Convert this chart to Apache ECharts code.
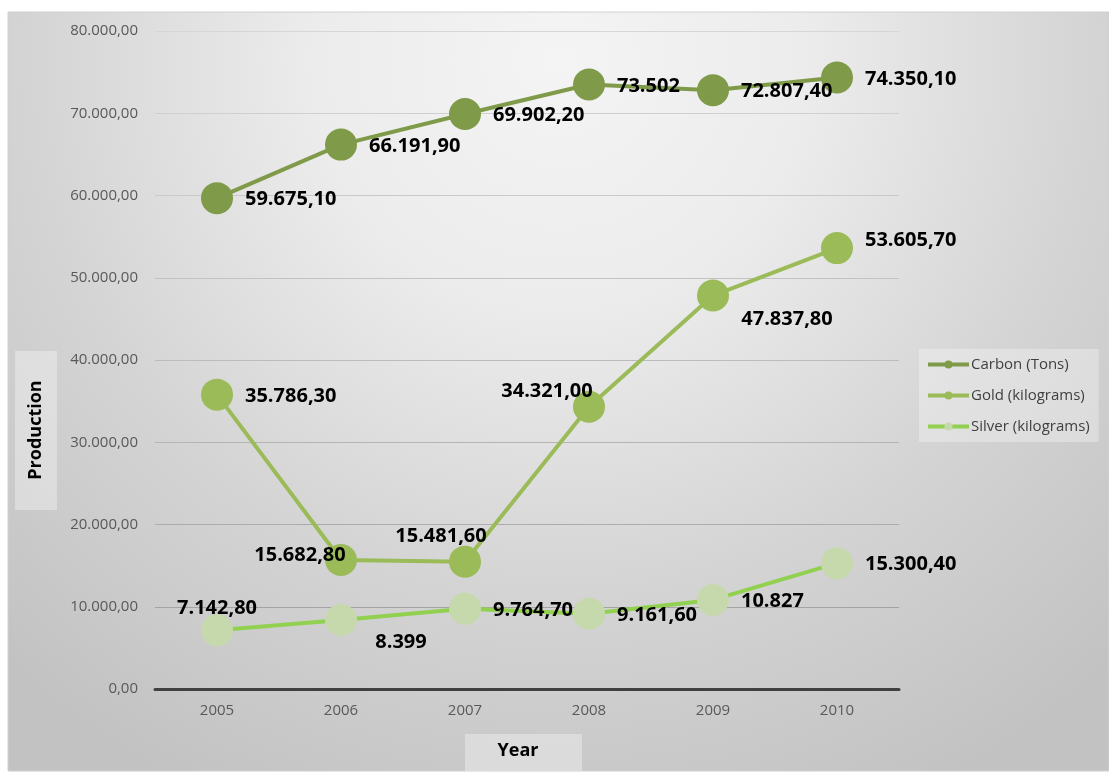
<!DOCTYPE html>
<html>
<head>
<meta charset="utf-8">
<script src="https://cdn.jsdelivr.net/npm/echarts@6/dist/echarts.min.js"></script>
<style>
html,body{margin:0;padding:0;background:#fff;}
#c{width:1109px;height:772px;}
</style>
</head>
<body>
<div id="c"></div>
<script>
// ---- data ----
const years = ['2005', '2006', '2007', '2008', '2009', '2010'];
const carbon = [59675.1, 66191.9, 69902.2, 73502, 72807.4, 74350.1];
const gold = [35786.3, 15682.8, 15481.6, 34321, 47837.8, 53605.7];
const silver = [7142.8, 8399, 9764.7, 9161.6, 10827, 15300.4];
const carbonLabels = ['59.675,10', '66.191,90', '69.902,20', '73.502', '72.807,40', '74.350,10'];
const goldLabels = ['35.786,30', '15.682,80', '15.481,60', '34.321,00', '47.837,80', '53.605,70'];
const silverLabels = ['7.142,80', '8.399', '9.764,70', '9.161,60', '10.827', '15.300,40'];
const seriesNames = ['Carbon (Tons)', 'Gold (kilograms)', 'Silver (kilograms)'];

const FONT = "'Open Sans', 'Noto Sans', sans-serif";

function fmtAxis(v) {
  const parts = Math.round(v).toString().replace(/\B(?=(\d{3})+(?!\d))/g, '.');
  return parts + ',00';
}

// label placement (style, not data)
const R = { position: 'right', offset: [0, 1.5] };
const carbonPlace = [R, R, R, R, R, R];
const goldPlace = [
  R,
  { position: 'inside', offset: [-41, -5] },
  { position: 'inside', offset: [-24, -25] },
  { position: 'inside', offset: [-42, -15] },
  { position: 'inside', offset: [74, 24] },
  { position: 'right', offset: [0, -8] }
];
const silverPlace = [
  { position: 'inside', offset: [0, -22] },
  { position: 'inside', offset: [60, 22] },
  R, R, R, R
];

function build(values, labels, place) {
  return values.map((v, i) => ({
    value: v,
    label: Object.assign({ formatter: labels[i] }, place[i])
  }));
}

const labelBase = {
  show: true,
  distance: 12,
  color: '#000',
  fontFamily: FONT,
  fontWeight: 'bold',
  fontSize: 20
};

function mkSeries(name, values, labels, place, lineColor, markerColor) {
  return {
    name: name,
    type: 'line',
    data: build(values, labels, place),
    symbol: 'circle',
    symbolSize: 32,
    lineStyle: { color: lineColor, width: 4 },
    itemStyle: { color: markerColor },
    label: labelBase,
    emphasis: { disabled: true },
    animation: false
  };
}

const chart = echarts.init(document.getElementById('c'));
chart.setOption({
  backgroundColor: '#ffffff',
  animation: false,
  graphic: [
    {
      type: 'rect', z: -10, silent: true,
      shape: { x: 8, y: 12, width: 1101, height: 759 },
      style: {
        fill: new echarts.graphic.RadialGradient(560, 60, 820, [
          { offset: 0, color: '#f4f4f4' },
          { offset: 0.3, color: '#ececec' },
          { offset: 0.65, color: '#d4d4d4' },
          { offset: 1, color: '#c2c2c2' }
        ], true),
        stroke: '#d0d0d0', lineWidth: 1
      }
    },
    {
      type: 'rect', z: 1, silent: true,
      shape: { x: 15, y: 351, width: 42, height: 159 },
      style: { fill: 'rgba(255,255,255,0.33)' }
    },
    {
      type: 'text', z: 2, silent: true,
      x: 36, y: 430, rotation: Math.PI / 2,
      style: {
        text: 'Production', x: 0, y: 0,
        font: "bold 18px 'Open Sans', sans-serif",
        fill: '#000', textAlign: 'center', textVerticalAlign: 'middle'
      }
    },
    {
      type: 'rect', z: 1, silent: true,
      shape: { x: 465, y: 734, width: 117, height: 37 },
      style: { fill: 'rgba(255,255,255,0.33)' }
    },
    {
      type: 'text', z: 2, silent: true,
      x: 518, y: 751,
      style: {
        text: 'Year', x: 0, y: 0,
        font: "bold 18px 'Open Sans', sans-serif",
        fill: '#000', textAlign: 'center', textVerticalAlign: 'middle'
      }
    }
  ],
  grid: { left: 155, right: 210, top: 31, bottom: 83, containLabel: false },
  legend: {
    orient: 'vertical',
    left: 919, top: 349,
    padding: [7, 9, 7, 7],
    backgroundColor: 'rgba(255,255,255,0.3)',
    itemWidth: 41, itemHeight: 10, itemGap: 14,
    lineStyle: { width: 4 },
    textStyle: { color: '#404040', fontSize: 15, fontFamily: FONT, lineHeight: 17, padding: [0, 0, 0, -3] },
    data: seriesNames
  },
  xAxis: {
    type: 'category',
    data: years,
    boundaryGap: true,
    axisLine: { show: true, lineStyle: { color: '#404040', width: 3 } },
    axisTick: { show: false },
    axisLabel: { color: '#595959', fontSize: 15, fontFamily: FONT, margin: 14 }
  },
  yAxis: {
    type: 'value',
    min: 0, max: 80000, interval: 10000,
    axisLine: { show: false },
    axisTick: { show: false },
    axisLabel: { color: '#595959', fontSize: 15, fontFamily: FONT, margin: 17, formatter: fmtAxis },
    splitLine: {
      lineStyle: {
        width: 1,
        color: new echarts.graphic.LinearGradient(0, 31, 0, 689, [
          { offset: 0, color: '#d6d6d6' },
          { offset: 0.5, color: '#bcbcbc' },
          { offset: 1, color: '#9c9c9c' }
        ], true)
      }
    }
  },
  series: [
    mkSeries(seriesNames[0], carbon, carbonLabels, carbonPlace, '#7f9a48', '#7f9a48'),
    mkSeries(seriesNames[1], gold, goldLabels, goldPlace, '#9bbb59', '#9bbb59'),
    mkSeries(seriesNames[2], silver, silverLabels, silverPlace, '#92d050', '#c6d9ac')
  ]
});
</script>
</body>
</html>
